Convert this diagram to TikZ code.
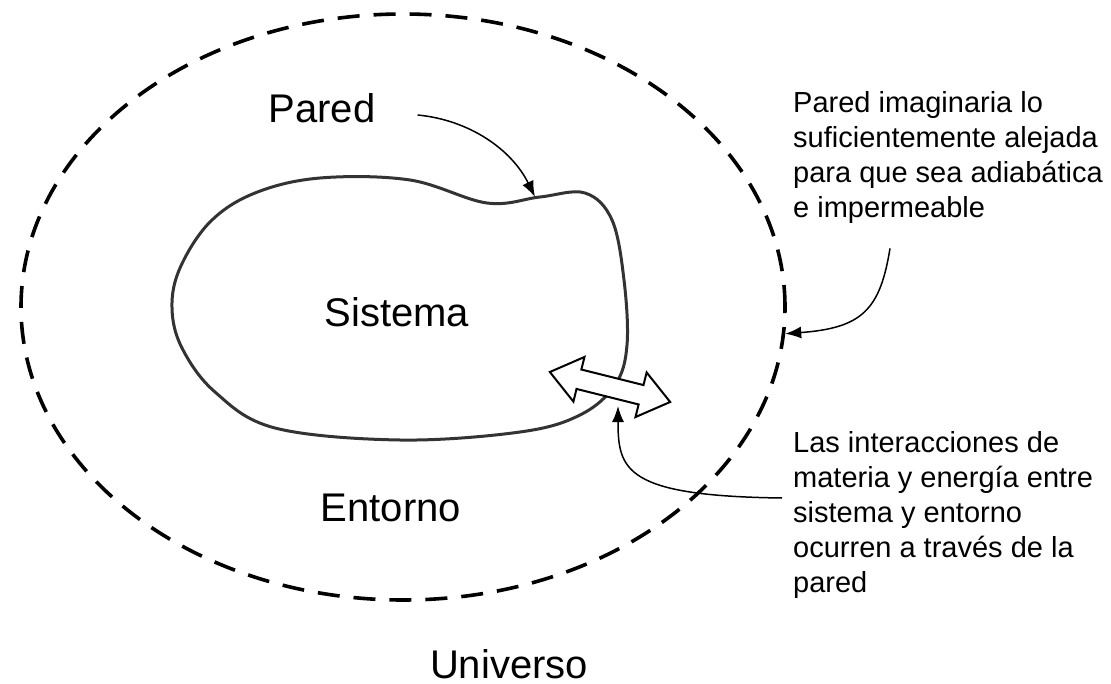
\documentclass[tikz,border=0pt]{standalone}
\usepackage{fontspec}
\setmainfont{Liberation Sans}
\usetikzlibrary{arrows.meta,shapes.geometric,calc}

\tikzset{
  etiqueta/.style={font=\fontsize{40}{48}\selectfont, inner sep=0pt},
  nota/.style={font=\fontsize{29}{35}\selectfont, align=left, inner sep=0pt, anchor=north west},
  flecha/.style={line width=1.5pt, -{Latex[length=16pt,width=12pt]}},
  frontera/.style={ellipse, draw, line width=3.6pt, dash pattern=on 22pt off 14pt,
    minimum width=764pt, minimum height=586pt, inner sep=0pt},
  flujo/.style={draw, fill=white, line width=2pt, line join=miter},
}

\begin{document}
\begin{tikzpicture}[x=1pt,y=-1pt]
\useasboundingbox (0,0) rectangle (1111,684);

% el universo y la pared imaginaria
\node[frontera] (universo) at (403,307) {};

% el sistema
\draw[line width=3pt, black!80] plot[smooth cycle, tension=0.6] coordinates {
  (180,268) (210,222) (255,193) (320,178) (410,180) (487,203) (540,197)
  (585,193) (612,220) (624,280) (627,345) (615,385) (580,415) (520,432)
  (400,440) (275,428) (215,392) (182,348) (172,308)};

% flecha doble de interaccion
\begin{scope}[shift={(610,387)}, rotate=-14]
  \draw[flujo] (-62,0) -- (-32,-23) -- (-32,-10) -- (32,-10) -- (32,-23) -- (62,0)
    -- (32,23) -- (32,10) -- (-32,10) -- (-32,23) -- cycle;
\end{scope}

\node[etiqueta] (pared) at (322,108) {Pared};
\node[etiqueta] (sistema) at (397,312) {Sistema};
\node[etiqueta] (entorno) at (391,508) {Entorno};
\node[etiqueta] (nombreUniverso) at (509,664) {Universo};

\node[nota] (notaPared) at (793,91) {Pared imaginaria lo\\suficientemente alejada\\para que sea adiabática\\e impermeable};
\node[nota] (notaInter) at (793,431) {Las interacciones de\\materia y energía entre\\sistema y entorno\\ocurren a través de la\\pared};

\coordinate (paredPunta) at (535,197);
\coordinate (interPunta) at (618,406);

\draw[flecha] ($(pared.east)+(42,7)$) .. controls (470,120) and (512,150) .. (paredPunta);
\draw[flecha] ($(notaPared.south west)+(97,25)$) .. controls (880,310) and (862,328) .. (universo.-4);
\draw[flecha] ($(notaInter.north west)+(-11,67)$) .. controls (625,496) and (618,470) .. (interPunta);
\end{tikzpicture}
\end{document}
